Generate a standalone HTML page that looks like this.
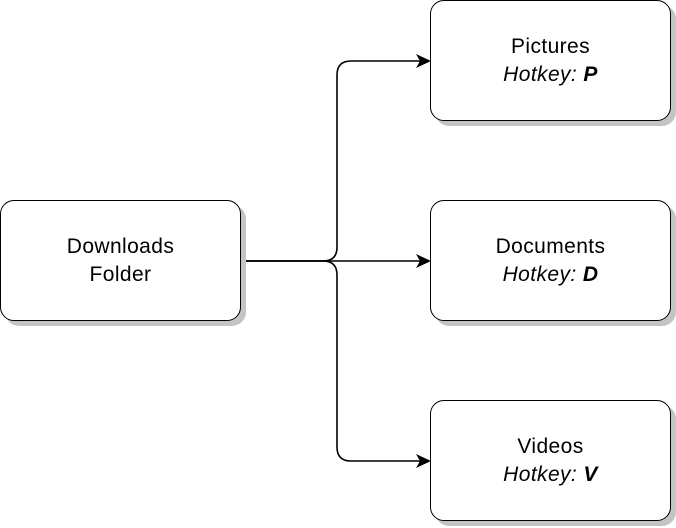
<!DOCTYPE html>
<html><head><style>
html,body{margin:0;padding:0;background:#fff;width:676px;height:528px;overflow:hidden}
.b{position:absolute;width:239px;height:119px;border:1.5px solid #000;border-radius:14px;background:#fff;box-shadow:5px 5px 0 #c4c4c4;box-sizing:content-box;display:flex;align-items:center;justify-content:center;text-align:center;font-family:"Liberation Sans",sans-serif;font-size:21px;letter-spacing:0.4px;line-height:28px;color:#000}
svg{position:absolute;left:0;top:0}
</style></head><body>
<svg width="676" height="528">
<g fill="none" stroke="#000" stroke-width="1.6">
<path d="M241 261 H423"/>
<path d="M241 261 H323 Q337 261 337 247 V75 Q337 61 351 61 H423"/>
<path d="M241 261 H323 Q337 261 337 275 V447 Q337 461 351 461 H423"/>
</g>
<g fill="#000">
<path d="M431 61 L416 54 L420 61 L416 68 Z"/>
<path d="M431 261 L416 254 L420 261 L416 268 Z"/>
<path d="M431 461 L416 454 L420 461 L416 468 Z"/>
</g>
</svg>
<div class="b" style="left:0;top:200px"><div>Downloads<br>Folder</div></div>
<div class="b" style="left:430px;top:0"><div>Pictures<br><i>Hotkey: <b>P</b></i></div></div>
<div class="b" style="left:430px;top:200px"><div>Documents<br><i>Hotkey: <b>D</b></i></div></div>
<div class="b" style="left:430px;top:400px"><div>Videos<br><i>Hotkey: <b>V</b></i></div></div>
</body></html>
